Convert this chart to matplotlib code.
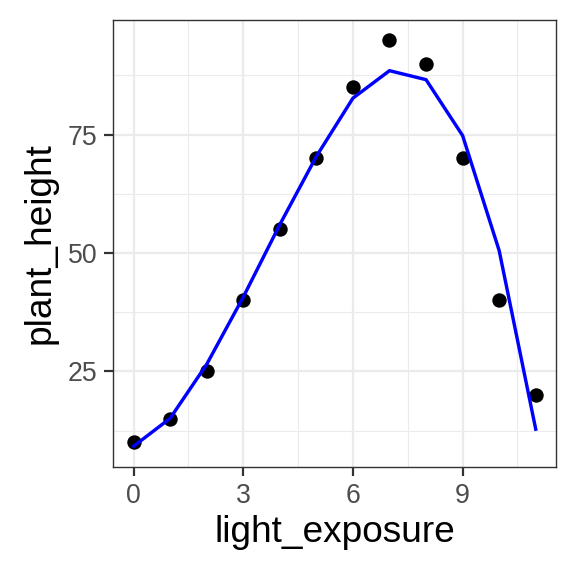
import matplotlib
matplotlib.use("Agg")
import matplotlib.pyplot as plt
import numpy as np

# observed points
light_exposure = [0, 1, 2, 3, 4, 5, 6, 7, 8, 9, 10, 11]
plant_height = [10, 15, 25, 40, 55, 70, 85, 95, 90, 70, 40, 20]
# fitted curve
fitted_height = [9.2, 15.1, 26.5, 40.7, 56.0, 70.4, 82.7, 88.5, 86.6, 74.8, 50.5, 12.8]

x_ticks = [0, 3, 6, 9]
y_ticks = [25, 50, 75]

plt.rcParams["font.family"] = ["Liberation Sans", "DejaVu Sans"]

fig = plt.figure(figsize=(4, 4), dpi=144)
ax = fig.add_axes([0.197, 0.190, 0.768, 0.776])

# ggplot-style 5% expansion
xmin, xmax = min(light_exposure), max(light_exposure)
ally = plant_height + fitted_height
ymin, ymax = min(ally), max(ally)
dx = (xmax - xmin) * 0.05
dy = (ymax - ymin) * 0.05
ax.set_xlim(xmin - dx, xmax + dx)
ax.set_ylim(ymin - dy, ymax + dy)

ax.set_xticks(x_ticks)
ax.set_yticks(y_ticks)
ax.set_xticks([1.5, 4.5, 7.5, 10.5], minor=True)
ax.set_yticks([12.5, 37.5, 62.5, 87.5], minor=True)

ax.grid(True, which="major", color="#EBEBEB", linewidth=1.1)
ax.grid(True, which="minor", color="#EBEBEB", linewidth=0.55)
ax.set_axisbelow(True)

ax.scatter(light_exposure, plant_height, s=52, color="black", zorder=3, linewidths=0)
ax.plot(light_exposure, fitted_height, color="#0000FF", linewidth=1.7, zorder=4)

for sp in ax.spines.values():
    sp.set_color("#333333")
    sp.set_linewidth(0.7)

ax.tick_params(which="major", length=4.5, width=1.1, color="#333333",
               labelsize=13.3, labelcolor="#4D4D4D", pad=3.5)
ax.tick_params(which="minor", length=0)

ax.set_xlabel("light_exposure", fontsize=18.5, color="black", labelpad=3)
ax.set_ylabel("plant_height", fontsize=18.5, color="black", labelpad=5)

fig.savefig("out.png", dpi=144)
